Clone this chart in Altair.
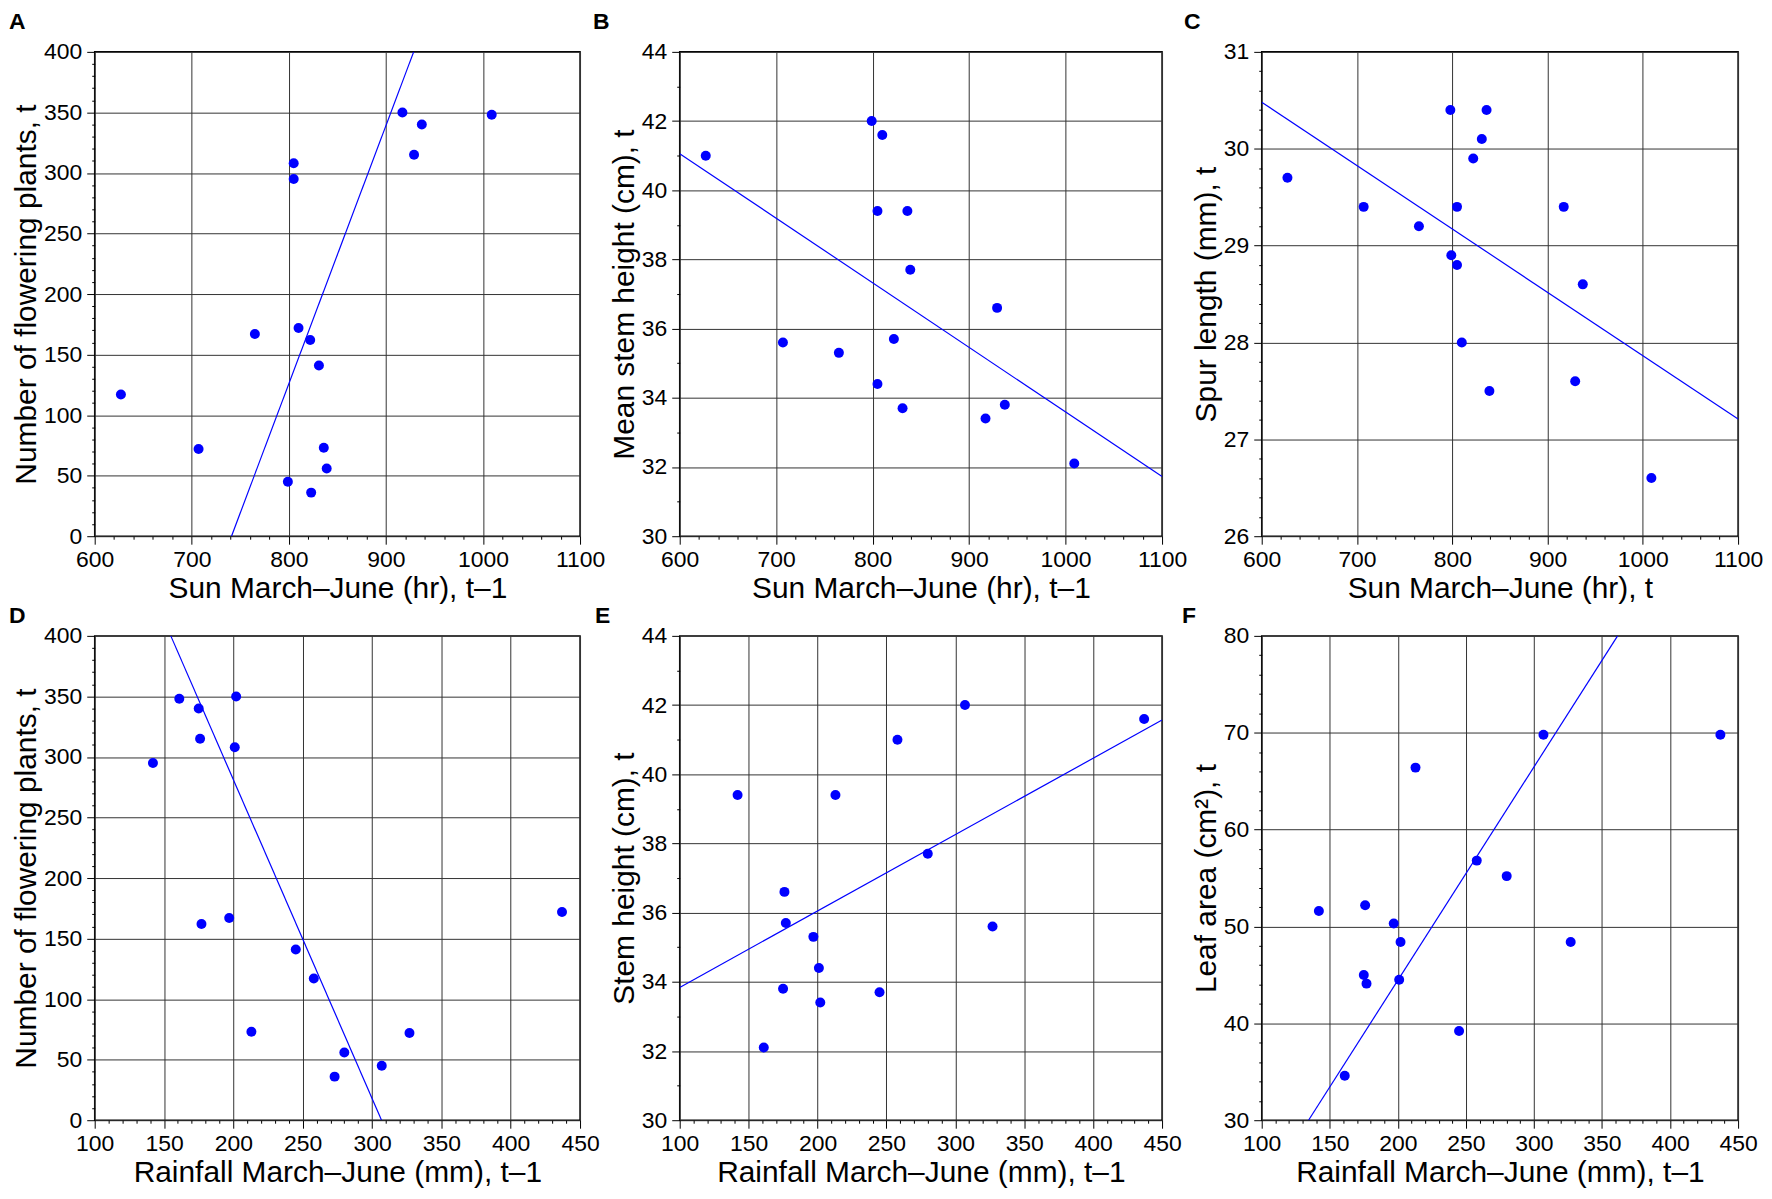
import altair as alt
import pandas as pd

# ---- data ----
# one row per flowering year t (panels A, B, D, E, F)
sun_prev = [627, 707, 765, 805, 805, 810, 822, 831, 799, 823, 836, 839, 917, 937, 929, 1009]
rain_prev = [258, 327, 197, 201, 142, 437, 177, 245, 307, 273, 213, 280, 202, 175, 176, 161]
flowering = [117, 72, 167, 308, 295, 172, 162, 141, 45, 36, 73, 56, 350, 340, 315, 348]
stem_height = [41.0, 35.6, 35.3, 34.4, 39.4, 41.6, 35.7, 33.7, 42.0, None, 39.4, 37.7, 33.4, 33.8, 36.6, 32.1]
leaf_area = [56.8, 48.4, 50.3, 44.5, 51.6, 69.8, 44.1, 39.2, 69.8, None, 66.4, 55.2, 48.4, 45.0, 52.2, 34.6]

# panel C: sun in the same year t vs spur length
sun_now = [627, 707, 765, 798, 836, 831, 822, 805, 799, 805, 810, 839, 917, 937, 929, 1009]
spur_length = [29.7, 29.4, 29.2, 30.4, 30.4, 30.1, 29.9, 29.4, 28.9, 28.8, 28.0, 27.5, 29.4, 28.6, 27.6, 26.6]

years = pd.DataFrame({
    "sun_prev": sun_prev,
    "rain_prev": rain_prev,
    "flowering": flowering,
    "stem": stem_height,
    "leaf": leaf_area,
})
spur_df = pd.DataFrame({"sun_now": sun_now, "spur": spur_length})

FONT = "Liberation Sans"
BLUE = "#0000ff"
H = 486


def tick_lists(lo, hi, major, minor):
    n = int(round((hi - lo) / minor))
    allv = [round(lo + i * minor, 4) for i in range(n + 1)]
    majors = [v for v in allv if abs(v / major - round(v / major)) < 1e-6]
    minors = [v for v in allv if v not in majors]
    return majors, minors


def encodings(field, lo, hi, major, minor, title, orient):
    majors, minors = tick_lists(lo, hi, major, minor)
    sc = alt.Scale(domain=[lo, hi], nice=False, zero=False)
    is_x = orient == "bottom"
    enc = alt.X if is_x else alt.Y
    main_axis = alt.Axis(
        title=title, values=majors, format="d", orient=orient,
        grid=True, tickSize=8, labelPadding=4 if is_x else 5,
        titlePadding=2,
        labelFlush=False, labelOverlap=False, domain=False,
    )
    minor_axis = alt.Axis(
        title=None, values=minors, orient=orient, labels=False,
        grid=False, tickSize=3, domain=False,
    )
    return (enc(f"{field}:Q", scale=sc, axis=main_axis),
            enc(f"{field}:Q", scale=sc, axis=minor_axis),
            enc(f"{field}:Q", scale=sc, axis=None))


def panel(df, xf, yf, xspec, yspec, letter, dx, offset, xony, width):
    xlo, xhi, xmaj, xmin, xtitle = xspec
    ylo, yhi, ymaj, ymin, ytitle = yspec
    x_main, x_minor, x_none = encodings(xf, xlo, xhi, xmaj, xmin, xtitle, "bottom")
    y_main, y_minor, y_none = encodings(yf, ylo, yhi, ymaj, ymin, ytitle, "left")
    base = alt.Chart(df).transform_filter(f"isValid(datum.{yf})")
    pts = base.mark_circle(size=100, color=BLUE, opacity=1).encode(x=x_main, y=y_main)
    if xony:
        reg = base.transform_regression(yf, xf, extent=[ylo, yhi])
    else:
        reg = base.transform_regression(xf, yf, extent=[xlo, xhi])
    line = reg.mark_line(color=BLUE, strokeWidth=1.2, clip=True).encode(x=x_none, y=y_none)
    minor = base.mark_point(opacity=0).encode(x=x_minor, y=y_minor)
    return (
        alt.layer(pts, line, minor)
        .resolve_axis(x="independent", y="independent")
        .properties(
            width=width,
            height=H,
            title=alt.TitleParams(
                text=letter, anchor="start", frame="group", dx=dx, offset=offset,
                fontSize=23, fontWeight="bold", font=FONT, color="black",
            ),
        )
    )


sun_t1 = (600, 1100, 100, 20, "Sun March\u2013June (hr), t\u20131")
sun_t = (600, 1100, 100, 20, "Sun March\u2013June (hr), t")
rain_t1 = (100, 450, 50, 10, "Rainfall March\u2013June (mm), t\u20131")

pA = panel(years, "sun_prev", "flowering", sun_t1,
           (0, 400, 50, 10, "Number of flowering plants, t"), "A", -86, 7, True, 487)
pB = panel(years, "sun_prev", "stem", sun_t1,
           (30, 44, 2, 1, "Mean stem height (cm), t"), "B", -87, 7, False, 484)
pC = panel(spur_df, "sun_now", "spur", sun_t,
           (26, 31, 1, 0.2, "Spur length (mm), t"), "C", -78, 7, False, 478)
pD = panel(years, "rain_prev", "flowering", rain_t1,
           (0, 400, 50, 10, "Number of flowering plants, t"), "D", -86, -3, True, 487)
pE = panel(years, "rain_prev", "stem", rain_t1,
           (30, 44, 2, 1, "Stem height (cm), t"), "E", -85, -3, False, 484)
pF = panel(years, "rain_prev", "leaf", rain_t1,
           (30, 80, 10, 2, "Leaf area (cm\u00b2), t"), "F", -80, -3, True, 478)

chart = (
    alt.concat(pA, pB, pC, pD, pE, pF, columns=3,
               spacing={"row": 100, "column": 100}, bounds="flush")
    .properties(padding=0, background="white")
    .configure_view(stroke="black", strokeWidth=1.5)
    .configure_axis(
        labelFont=FONT, titleFont=FONT, labelFontSize=23, titleFontSize=30,
        titleFontWeight="normal", labelColor="black", titleColor="black",
        tickColor="black", tickWidth=1, gridColor="#333333", gridWidth=1,
    )
)

chart.save("out.html", embed_options={"renderer": "svg", "actions": False})
